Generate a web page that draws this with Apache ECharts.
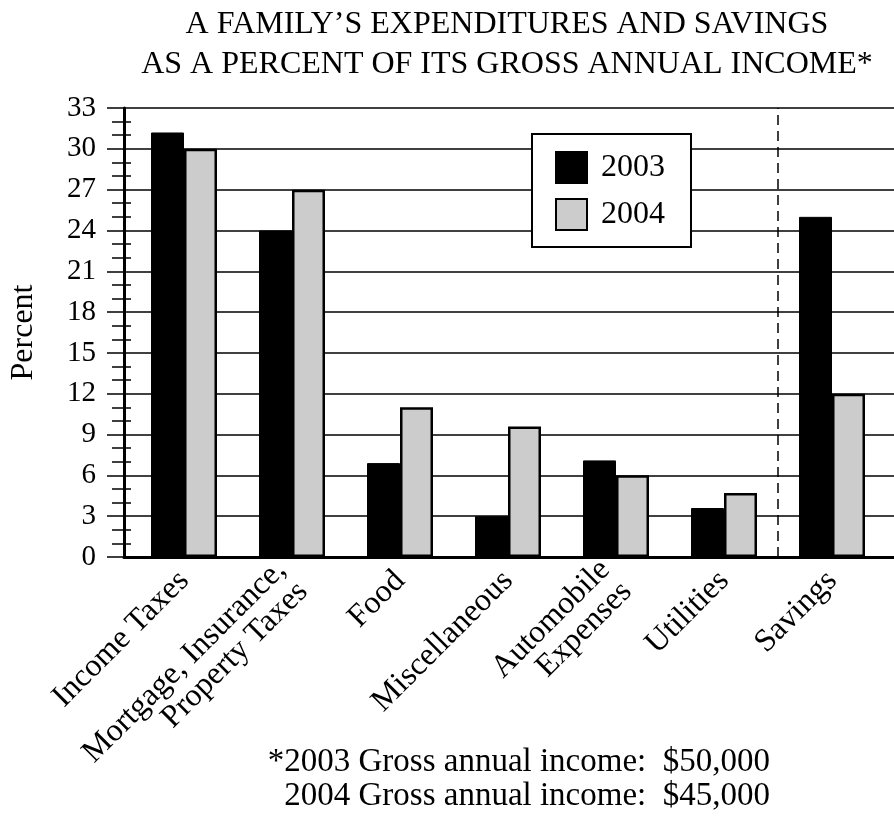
<!DOCTYPE html>
<html>
<head>
<meta charset="utf-8">
<script src="https://cdn.jsdelivr.net/npm/echarts@6/dist/echarts.min.js"></script>
<style>
  html, body { margin: 0; padding: 0; background: #fff; }
  #chart { width: 894px; height: 817px; }
</style>
</head>
<body>
<div id="chart"></div>
<script>
const categories = [
  'Income Taxes',
  'Mortgage, Insurance,\nProperty Taxes',
  'Food',
  'Miscellaneous',
  'Automobile\nExpenses',
  'Utilities',
  'Savings'
]
const values2003 = [31.2, 24, 6.9, 3, 7.1, 3.6, 25]
const values2004 = [30, 27, 11, 9.6, 6, 4.7, 12]
const yTicks = { min: 0, max: 33, interval: 3 }
// savings are split from the expenses by a dashed line between bands 6 and 7
const dividerAt = 6

const serif = "'Liberation Serif', 'Times New Roman', serif"

const chart = echarts.init(document.getElementById('chart'))

const option = {
  animation: false,
  backgroundColor: '#fff',
  title: {
    text: 'A FAMILY\u2019S EXPENDITURES AND SAVINGS\nAS A PERCENT OF ITS GROSS ANNUAL INCOME*',
    left: 502,
    top: 0,
    textAlign: 'center',
    textStyle: {
      fontFamily: serif,
      fontSize: 32,
      fontWeight: 'normal',
      lineHeight: 40,
      color: '#000'
    }
  },
  legend: {
    data: ['2003', '2004'],
    orient: 'vertical',
    left: 532,
    top: 134,
    padding: [17, 26, 16, 23],
    itemWidth: 31,
    itemHeight: 31,
    itemGap: 14,
    icon: 'rect',
    backgroundColor: '#fff',
    borderColor: '#000',
    borderWidth: 2,
    textStyle: {
      fontFamily: serif,
      fontSize: 32,
      color: '#000',
      padding: [0, 0, 0, 9]
    }
  },
  grid: [
    { left: 120, right: 0, top: 108, height: 449 },
    { left: 130, width: 756, top: 108, height: 449 }
  ],
  xAxis: [
    {
      gridIndex: 0,
      type: 'value',
      min: 0,
      max: 1,
      axisLine: { show: true, lineStyle: { color: '#000', width: 3 } },
      axisTick: { show: false },
      axisLabel: { show: false },
      splitLine: { show: false }
    },
    {
      gridIndex: 1,
      type: 'category',
      data: categories,
      axisLine: { show: false },
      axisTick: { show: false },
      axisLabel: {
        rotate: 45,
        interval: 0,
        margin: 19,
        fontFamily: serif,
        fontSize: 32,
        lineHeight: 31,
        color: '#000'
      }
    },
    {
      gridIndex: 1,
      type: 'value',
      min: 0,
      max: categories.length,
      show: false
    }
  ],
  yAxis: [
    {
      gridIndex: 0,
      type: 'value',
      min: yTicks.min,
      max: yTicks.max,
      interval: yTicks.interval,
      name: 'Percent',
      nameLocation: 'middle',
      nameGap: 84,
      nameTextStyle: { fontFamily: serif, fontSize: 32, color: '#000' },
      axisLine: { show: true, lineStyle: { color: '#000', width: 3 } },
      axisTick: { show: true, length: 17, lineStyle: { color: '#000', width: 1.5 } },
      minorTick: { show: true, splitNumber: 3, length: 12, lineStyle: { color: '#000', width: 1.5 } },
      axisLabel: { fontFamily: serif, fontSize: 29, color: '#000', margin: 28 },
      splitLine: { show: true, lineStyle: { color: '#000', width: 1.5 } }
    },
    {
      // inner half of the minor ticks, they cross the axis line
      gridIndex: 0,
      type: 'value',
      position: 'left',
      min: yTicks.min,
      max: yTicks.max,
      interval: yTicks.interval,
      axisLine: { show: false },
      axisTick: { show: false, inside: true },
      minorTick: { show: true, splitNumber: 3, length: 7, lineStyle: { color: '#000', width: 1.5 } },
      axisLabel: { show: false },
      splitLine: { show: false }
    },
    {
      gridIndex: 1,
      type: 'value',
      min: yTicks.min,
      max: yTicks.max,
      show: false
    }
  ],
  series: [
    {
      name: '2003',
      type: 'bar',
      xAxisIndex: 1,
      yAxisIndex: 2,
      data: values2003,
      barWidth: 33,
      barGap: '0%',
      itemStyle: { color: '#000', borderColor: '#000', borderWidth: 1 }
    },
    {
      name: '2004',
      type: 'bar',
      xAxisIndex: 1,
      yAxisIndex: 2,
      data: values2004,
      barWidth: 33,
      barGap: '0%',
      itemStyle: { color: '#cccccc', borderColor: '#000', borderWidth: 2.5 }
    },
    {
      name: 'divider',
      type: 'line',
      xAxisIndex: 2,
      yAxisIndex: 2,
      data: [],
      markLine: {
        silent: true,
        symbol: 'none',
        label: { show: false },
        lineStyle: { color: '#000', type: [10, 6], width: 1.5 },
        data: [{ xAxis: dividerAt }]
      }
    }
  ],
  graphic: [
    {
      type: 'text',
      right: 124,
      top: 746,
      style: {
        text: '*2003 Gross annual income:  $50,000',
        font: '33px ' + serif,
        fill: '#000'
      }
    },
    {
      type: 'text',
      right: 124,
      top: 780,
      style: {
        text: '2004 Gross annual income:  $45,000',
        font: '33px ' + serif,
        fill: '#000'
      }
    }
  ]
}

chart.setOption(option)
</script>
</body>
</html>
